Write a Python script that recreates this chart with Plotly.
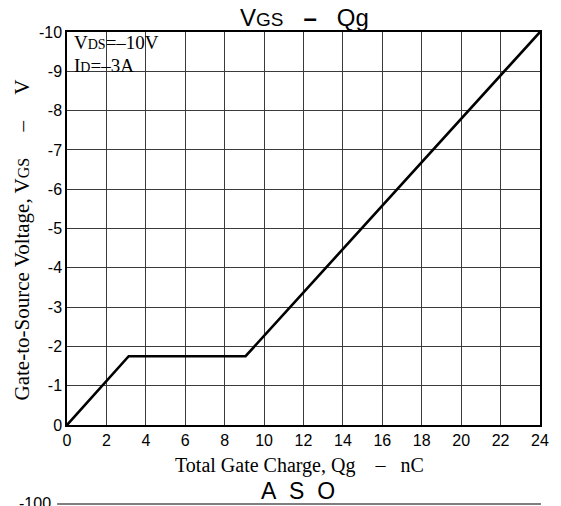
import plotly.graph_objects as go

# Gate charge curve: total gate charge (nC) vs gate-to-source voltage (V)
qg_nc = [0.0, 3.13, 9.06, 24.0]
vgs_v = [0.0, -1.75, -1.75, -10.0]

x_ticks = list(range(0, 25, 2))
y_ticks = list(range(-10, 1))

# Plot area geometry (pixels)
W, H = 561, 506
L, R, T, B = 67, 16, 32, 81
PH = H - T - B


def py(px):
    """Convert a pixel row to paper y coordinate."""
    return (H - B - px) / PH


def pxx(px):
    """Convert a pixel column to paper x coordinate."""
    return (px - L) / (W - L - R)


NB = "\u00a0"

fig = go.Figure()
fig.add_trace(go.Scatter(
    x=qg_nc, y=vgs_v, mode="lines",
    line=dict(color="black", width=2.6),
    hoverinfo="skip", showlegend=False,
))

serif = "Liberation Serif, Times New Roman, serif"
sans = "Liberation Sans, Arial, sans-serif"
grid = "#3a3a3a"

fig.update_xaxes(
    range=[0, 24], tickvals=x_ticks, ticktext=[str(v) for v in x_ticks],
    showgrid=True, gridcolor=grid, gridwidth=1,
    showline=True, linecolor="black", linewidth=1.5, mirror=True,
    zeroline=False, ticks="", ticklen=0,
    tickfont=dict(family=sans, size=16, color="black"),
)
# Voltage axis grows upward with more negative values
fig.update_yaxes(
    range=[0, -10], tickvals=y_ticks, ticktext=[str(v) for v in y_ticks],
    showgrid=True, gridcolor=grid, gridwidth=1,
    showline=True, linecolor="black", linewidth=1.5, mirror=True,
    zeroline=False, ticks="", ticklen=0,
    tickfont=dict(family=sans, size=16, color="black"),
)

shapes = [
    # White box behind the test-condition note
    dict(type="rect", xref="paper", yref="paper",
         x0=pxx(68), x1=pxx(166), y0=py(80), y1=1.0,
         fillcolor="white", line=dict(width=0), layer="between"),
    # Axis of the following chart, partially visible at the bottom
    dict(type="line", xref="paper", yref="paper",
         x0=pxx(57), x1=pxx(546), y0=py(504), y1=py(504),
         line=dict(color="black", width=1.2)),
]

annotations = [
    dict(text="V<span style='font-size:19px'>GS</span>" + NB * 3
              + "<b>–</b>" + NB * 3 + "Qg",
         xref="paper", yref="paper", x=pxx(307), y=py(17),
         showarrow=False, font=dict(family=sans, size=24, color="black"),
         xanchor="center", yanchor="middle"),
    dict(text="V<span style='font-size:14px'>DS</span>=–10V",
         xref="paper", yref="paper",
         x=pxx(72), y=py(43), xanchor="left", yanchor="middle",
         showarrow=False, font=dict(family=serif, size=19, color="black")),
    dict(text="I<span style='font-size:14px'>D</span>=–3A",
         xref="paper", yref="paper",
         x=pxx(72), y=py(65), xanchor="left", yanchor="middle",
         showarrow=False, font=dict(family=serif, size=19, color="black")),
    dict(text="Gate-to-Source Voltage, V<span style='font-size:16px'>GS</span>"
              + NB * 5 + "–" + NB * 5 + "V",
         xref="paper", yref="paper", x=pxx(22), y=py(240),
         textangle=-90, xanchor="center", yanchor="middle",
         showarrow=False, font=dict(family=serif, size=21, color="black")),
    dict(text="Total Gate Charge, Qg" + NB * 4 + "–" + NB * 3 + "nC",
         xref="paper", yref="paper", x=pxx(302), y=py(465),
         xanchor="center", yanchor="middle",
         showarrow=False, font=dict(family=serif, size=20, color="black")),
    dict(text="A" + NB * 2 + "S" + NB * 2 + "O", xref="paper", yref="paper",
         x=pxx(300), y=py(491), xanchor="center", yanchor="middle",
         showarrow=False, font=dict(family=sans, size=23, color="black")),
    dict(text="-100", xref="paper", yref="paper",
         x=pxx(53), y=py(503), xanchor="right", yanchor="middle",
         showarrow=False, font=dict(family=sans, size=16, color="black")),
]

fig.update_layout(
    width=W, height=H,
    margin=dict(l=L, r=R, t=T, b=B),
    paper_bgcolor="white", plot_bgcolor="white",
    shapes=shapes, annotations=annotations,
    showlegend=False,
)

fig.write_html("out.html")
